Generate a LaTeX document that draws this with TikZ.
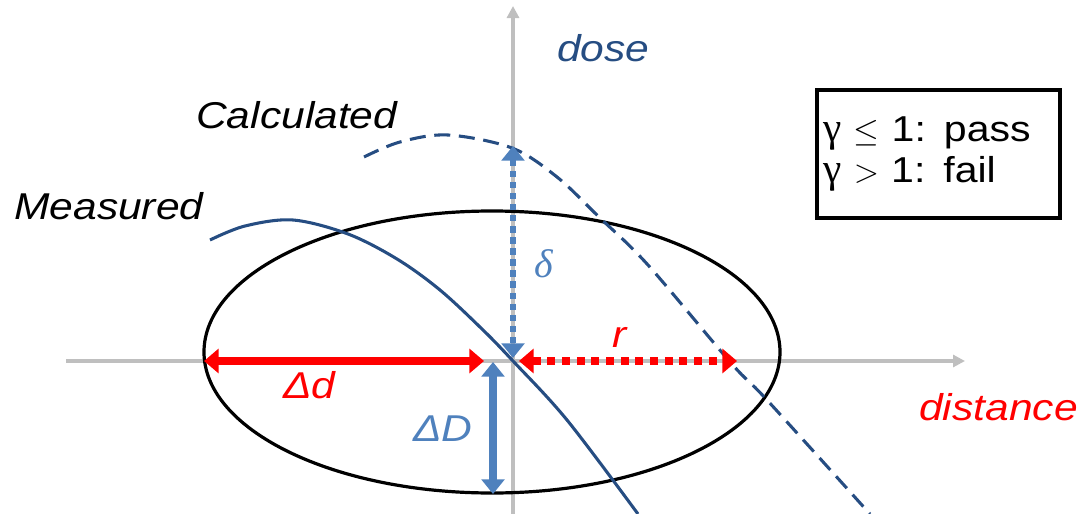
\documentclass[tikz,border=0pt]{standalone}
\usepackage{fontspec}
\setmainfont{Liberation Serif}
\setsansfont{Liberation Sans}[FakeStretch=1.14]
\newfontfamily\grkfont{Liberation Serif}
\usetikzlibrary{arrows.meta, positioning}
\definecolor{DoseNavy}{HTML}{264D82}
\definecolor{DoseBlue}{HTML}{4F81BD}
\definecolor{DistRed}{HTML}{FF0000}
\definecolor{AxisGray}{HTML}{BFBFBF}

\begin{document}
\begin{tikzpicture}[x=0.75pt, y=-0.75pt,
    lbl/.style={font=\fontsize{28}{32}\selectfont\sffamily\itshape, inner sep=0pt},
    axisline/.style={AxisGray, line width=2.8pt, -{Triangle[length=9pt, width=9pt]}},
    curve/.style={DoseNavy, line width=2.3pt},
    redarrow/.style={DistRed, line width=5.5pt, {Triangle[length=11pt, width=18pt]}-{Triangle[length=11pt, width=18pt]}},
    bluearrow/.style={DoseBlue, line width=5.5pt, {Triangle[length=11pt, width=17pt]}-{Triangle[length=11pt, width=17pt]}}
]
    \useasboundingbox (0,0) rectangle (1089,514);

    % Axes
    \coordinate (xstart) at (66,361);
    \coordinate (xend) at (965,361);
    \coordinate (ystart) at (513,514);
    \coordinate (yend) at (513,6);
    \draw[axisline] (xstart) -- (xend);
    \draw[axisline] (ystart) -- (yend);

    % Tolerance ellipse
    \draw[line width=2.4pt] (492,352) ellipse [x radius=288, y radius=141];

    % Measured and calculated profiles
    \draw[curve] plot[smooth, tension=0.55] coordinates {(210,240) (245,226) (293,220) (348,234) (397,259) (440,290) (483,330) (513,361) (567,420) (638,514)};
    \draw[curve, dash pattern=on 12pt off 6.5pt] plot[smooth, tension=0.55] coordinates {(364,157) (400,142) (448,135) (512,148) (557,177) (599,217) (648,265) (731,363) (767,400) (870,514)};

    % Distance-to-agreement and dose-difference arrows
    \coordinate (ddleft) at (204,361);
    \coordinate (ddright) at (484,361);
    \coordinate (rleft) at (519,361);
    \coordinate (rright) at (737,361);
    \coordinate (dtop) at (513,146);
    \coordinate (dbot) at (513,358);
    \coordinate (DDtop) at (493,362);
    \coordinate (DDbot) at (493,494);
    \draw[redarrow] (ddleft) -- (ddright);
    \draw[redarrow, dash pattern=on 6pt off 5pt] (rleft) -- (rright);
    \draw[bluearrow, line width=4.2pt, dash pattern=on 4.8pt off 3.5pt] (dtop) -- (dbot);
    \draw[bluearrow] (DDtop) -- (DDbot);

    % Labels
    \node[lbl, DoseNavy, anchor=base west] (dose) at (557,61) {dose};
    \node[lbl, anchor=base west] (calc) at (196,128) {Calculated};
    \node[lbl, anchor=base west] (meas) at (14,219) {Measured};
    \node[lbl, DistRed, anchor=base east] (dist) at (1078,420) {distance};
    \node[lbl, DistRed, anchor=base west] (ddlbl) at (283,398) {Δd};
    \node[lbl, DoseBlue, anchor=base west] (DDlbl) at (413,441) {ΔD};
    \node[lbl, DistRed, anchor=base west] (rlbl) at (612,347) {r};
    \node[inner sep=0pt, DoseBlue, font=\fontsize{30}{32}\selectfont\grkfont\itshape, anchor=base west] (dlbl) at (534,277) {δ};

    % Pass/fail criterion
    \node[draw, line width=3pt, anchor=north west, minimum width=182pt, minimum height=96pt,
          text width=172pt, inner xsep=2pt, align=left,
          font=\fontsize{27}{31}\selectfont\sffamily] (crit) at (815,88)
          {{\fontsize{31}{31}\selectfont\grkfont γ} $\leq$ 1: pass\\{\fontsize{31}{31}\selectfont\grkfont γ} $>$ 1: fail};
\end{tikzpicture}
\end{document}
